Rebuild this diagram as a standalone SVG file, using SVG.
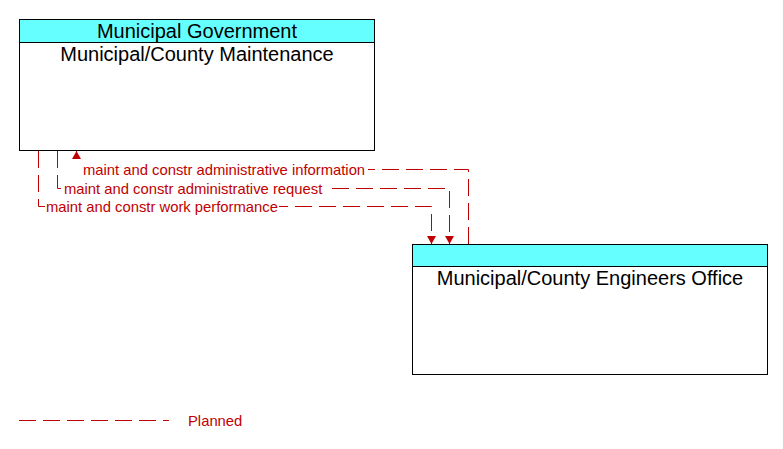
<svg xmlns="http://www.w3.org/2000/svg" width="783" height="449" viewBox="0 0 783 449">
<defs>
<marker id="arr" markerWidth="10" markerHeight="10" refX="8" refY="5" orient="auto" markerUnits="userSpaceOnUse" viewBox="0 0 10 10">
<path d="M0,0.5 L8,5 L0,9.5 Z" fill="#C00000"/>
</marker>
<style>
.box{fill:#fff;stroke:#000;stroke-width:1}
.hdr{fill:#66FFFF;stroke:#000;stroke-width:1}
.t{font-family:"Liberation Sans",Arial,sans-serif;font-size:20px;fill:#000;text-anchor:middle}
.flow{fill:none;stroke:#C00000;stroke-width:1;stroke-dasharray:17 7}
.lbl{font-family:"Liberation Sans",Arial,sans-serif;font-size:14.8px;fill:#C00000}
</style>
</defs>
<rect width="783" height="449" fill="#fff"/>
<g id="municipal-county-maintenance">
<rect class="box" x="19.5" y="19.5" width="355" height="131"/>
<rect class="hdr" x="19.5" y="19.5" width="355" height="23"/>
<text class="t" x="197" y="37.5">Municipal Government</text>
<text class="t" x="197" y="61">Municipal/County Maintenance</text>
</g>
<g id="municipal-county-engineers-office">
<rect class="box" x="412.5" y="244.5" width="355" height="130"/>
<rect class="hdr" x="412.5" y="244.5" width="355" height="22"/>
<text class="t" x="590" y="284.5">Municipal/County Engineers Office</text>
</g>
<g id="connectors">
<path class="flow" d="M468.5,244 L468.5,169.5 L76.5,169.5 L76.5,151" marker-end="url(#arr)"/>
<path class="flow" d="M57.5,151 L57.5,188.5 L449.5,188.5 L449.5,244" marker-end="url(#arr)"/>
<path class="flow" d="M38.5,151 L38.5,206.5 L431.5,206.5 L431.5,244" marker-end="url(#arr)"/>
<rect x="74" y="161" width="294" height="16" fill="#fff"/>
<text class="lbl" x="83" y="175">maint and constr administrative information</text>
<rect x="63" y="180" width="262" height="16" fill="#fff"/>
<text class="lbl" x="64" y="193.5">maint and constr administrative request</text>
<rect x="45" y="198" width="234" height="16" fill="#fff"/>
<text class="lbl" x="46" y="212">maint and constr work performance</text>
</g>
<g id="legend">
<path class="flow" d="M19,420.5 L169,420.5"/>
<text class="lbl" x="188" y="425.5">Planned</text>
</g>
</svg>
